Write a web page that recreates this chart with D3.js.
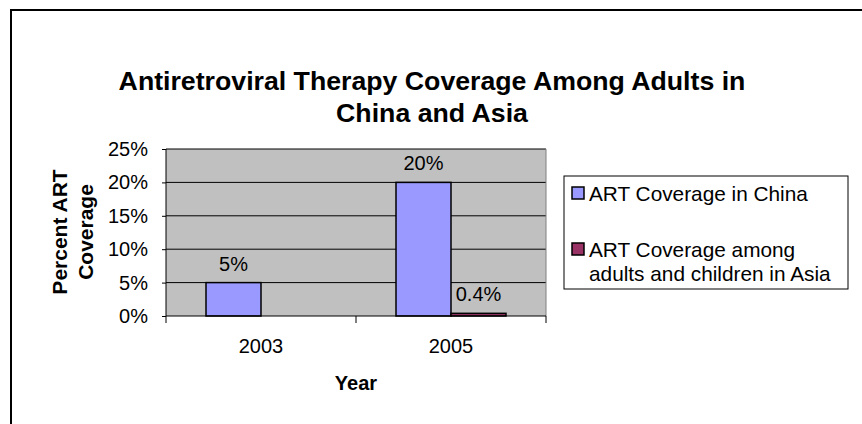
<!DOCTYPE html>
<html><head><meta charset="utf-8">
<script src="https://cdn.jsdelivr.net/npm/d3@7"></script>
<style>body{margin:0;background:#fff}svg{display:block;font-family:Arial,"Liberation Sans",sans-serif}</style>
</head><body><svg id="c" width="862" height="424"></svg>
<script>
const categories = ["2003", "2005"];
const seriesNames = ["ART Coverage in China", "ART Coverage among adults and children in Asia"];
const chinaValues = [5, 20];
const asiaValues = [null, 0.4];
const chinaLabels = ["5%", "20%"];
const asiaLabels = ["", "0.4%"];
const yTicks = [0, 5, 10, 15, 20, 25];
const colors = ["#9999FF", "#993366"];

const FS = 20;
const svg = d3.select("#c");
svg.append("rect").attr("x", 11).attr("y", 10).attr("width", 900).attr("height", 500)
  .attr("fill", "#fff").attr("stroke", "#000").attr("stroke-width", 2);

const L = 166, R = 546, T = 149, B = 316;
const x = d3.scaleBand().domain(categories).range([L, R]);
const y = d3.scaleLinear().domain([0, 25]).range([B, T]);
const xs = d3.scaleBand().domain([0, 1]).range([0, 110]);

svg.append("rect").attr("x", L).attr("y", T).attr("width", R - L).attr("height", B - T).attr("fill", "#C0C0C0");
svg.append("g").selectAll("line").data(yTicks.slice(1)).join("line")
  .attr("x1", L).attr("x2", R).attr("y1", d => y(d)).attr("y2", d => y(d)).attr("stroke", "#000").attr("stroke-width", 1);
svg.append("line").attr("x1", R).attr("x2", R).attr("y1", T).attr("y2", B).attr("stroke", "#808080");

const series = [chinaValues, asiaValues];
const labels = [chinaLabels, asiaLabels];
series.forEach((vals, si) => {
  const g = svg.append("g");
  const data = categories.map((c, i) => ({c, v: vals[i], lab: labels[si][i]})).filter(d => d.v != null);
  g.selectAll("rect").data(data).join("rect")
    .attr("x", d => x(d.c) + (x.bandwidth() - 110) / 2 + xs(si))
    .attr("width", xs.bandwidth())
    .attr("y", d => y(d.v)).attr("height", d => Math.max(0, B - y(d.v)))
    .attr("fill", colors[si]).attr("stroke", "#000").attr("stroke-width", 1.5);
  g.selectAll("text").data(data).join("text")
    .attr("x", d => x(d.c) + (x.bandwidth() - 110) / 2 + xs(si) + xs.bandwidth() / 2)
    .attr("y", d => y(d.v) - 12)
    .attr("text-anchor", "middle").attr("font-size", FS).text(d => d.lab);
});

const yAxis = svg.append("g").attr("transform", `translate(${L},0)`)
  .call(d3.axisLeft(y).tickValues(yTicks).tickFormat(d => d + "%").tickSize(4).tickPadding(14));
yAxis.select(".domain").attr("stroke", "#000").attr("d", `M0,${T}V${B}`);
yAxis.selectAll("text").attr("font-size", FS).attr("fill", "#000").attr("font-family", "Arial, 'Liberation Sans', sans-serif");

const xAxis = svg.append("g").attr("transform", `translate(0,${B})`)
  .call(d3.axisBottom(x).tickSize(0).tickPadding(23));
xAxis.select(".domain").attr("stroke", "#000").attr("d", `M${L},0H${R}`);
xAxis.selectAll("text").attr("font-size", FS).attr("fill", "#000").attr("font-family", "Arial, 'Liberation Sans', sans-serif");
svg.append("g").selectAll("line").data([L, (L + R) / 2, R]).join("line")
  .attr("x1", d => d).attr("x2", d => d).attr("y1", B).attr("y2", B + 7).attr("stroke", "#000");

svg.append("text").attr("x", 356).attr("y", 390).attr("text-anchor", "middle")
  .attr("font-size", FS).attr("font-weight", "bold").text("Year");

const yl = svg.append("text").attr("transform", "translate(67,232) rotate(-90)")
  .attr("text-anchor", "middle").attr("font-size", 21).attr("font-weight", "bold");
yl.append("tspan").attr("x", 0).attr("dy", 0).text("Percent ART");
yl.append("tspan").attr("x", 0).attr("dy", 26).text("Coverage");

const title = svg.append("text").attr("text-anchor", "middle").attr("font-size", 26.7).attr("font-weight", "bold");
title.append("tspan").attr("x", 432).attr("y", 90).text("Antiretroviral Therapy Coverage Among Adults in");
title.append("tspan").attr("x", 432).attr("y", 122).text("China and Asia");

const lg = svg.append("g");
lg.append("rect").attr("x", 564).attr("y", 176).attr("width", 284).attr("height", 113)
  .attr("fill", "#fff").attr("stroke", "#000").attr("stroke-width", 1);
const legendRows = [{y: 187, lines: [seriesNames[0]]}, {y: 243, lines: ["ART Coverage among", "adults and children in Asia"]}];
legendRows.forEach((r, i) => {
  lg.append("rect").attr("x", 572).attr("y", r.y).attr("width", 12).attr("height", 12)
    .attr("fill", colors[i]).attr("stroke", "#000").attr("stroke-width", 1.5);
  r.lines.forEach((ln, j) => lg.append("text").attr("x", 589).attr("y", r.y + 14 + j * 24)
    .attr("font-size", 20.8).text(ln));
});
</script></body></html>
